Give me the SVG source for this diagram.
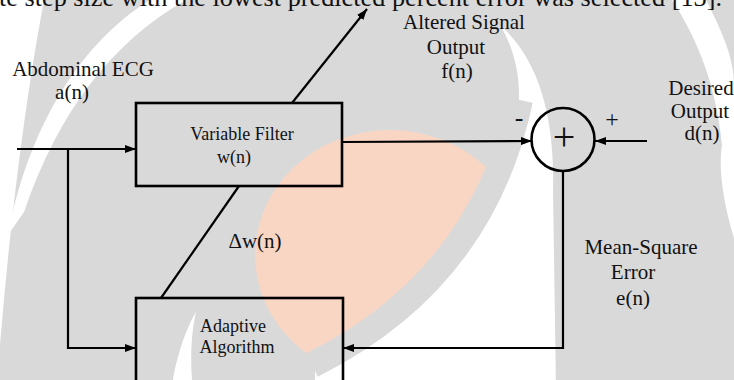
<svg xmlns="http://www.w3.org/2000/svg" width="734" height="380" viewBox="0 0 734 380">
<defs>
<style>
.t{font-family:"Liberation Serif","Times New Roman",serif;fill:#111;text-anchor:middle}
.lg{font-size:21px}
.sm{font-size:18px}
.ln{fill:none;stroke:#000;stroke-width:2.2}
.bx{fill:none;stroke:#000;stroke-width:2.6}
.wm{fill:#fff}
</style>
<marker id="ah" markerUnits="userSpaceOnUse" markerWidth="11" markerHeight="8" refX="11" refY="4" orient="auto">
<path d="M0,0 L11,4 L0,8 Z" fill="#000"/>
</marker>
</defs>
<g id="watermark">
<rect x="0" y="0" width="734" height="380" fill="#d9d9d9"/>
<path class="wm" d="M0,0 L44,0 Q16,150 0,345 Z"/>
<path class="wm" d="M8,235 C30,120 85,40 150,0 L186,0 C112,42 58,112 24,212 Z"/>
<path class="wm" d="M672,0 L706,0 C724,35 734,60 734,85 L734,238 C724,205 718,170 722,145 C716,85 698,40 672,0 Z"/>
<ellipse cx="390" cy="255" rx="135" ry="125" fill="#f9d6c3"/>
<path class="wm" d="M500,25 C540,60 555,120 553,190 L556,390 L315,390 L315,360 Q480,280 518,115 C522,80 515,50 500,25 Z"/>
<path d="M520,100 Q482,280 312,365" fill="none" stroke="#d9d9d9" stroke-width="26"/>
<path class="wm" d="M196,312 C185,330 176,360 173,380 L192,380 C190,350 192,330 196,312 Z"/>
</g>
<text class="t" x="-1" y="6" font-size="26" textLength="723" lengthAdjust="spacingAndGlyphs" style="text-anchor:start">te step size with the lowest predicted percent error was selected [13].</text>
<g id="connectors">
<path class="ln" d="M17,149 L136,149" marker-end="url(#ah)"/>
<path class="ln" d="M68,149 L68,348 L136,348" marker-end="url(#ah)"/>
<path class="ln" d="M292,103 L367,9" marker-end="url(#ah)"/>
<path class="ln" d="M342,142 L532,141" marker-end="url(#ah)"/>
<path class="ln" d="M647,141 L595,141" marker-end="url(#ah)"/>
<path class="ln" d="M563,171 L563,348 L343,348" marker-end="url(#ah)"/>
<path class="ln" d="M161,298 L239,186"/>
</g>
<g id="filter">
<rect class="bx" x="136" y="103" width="206" height="83"/>
<text class="t sm" x="242" y="140">Variable Filter</text>
<text class="t sm" x="234" y="163">w(n)</text>
</g>
<g id="adaptive">
<rect class="bx" x="136" y="298" width="207" height="100"/>
<text class="t sm" x="233" y="332">Adaptive</text>
<text class="t sm" x="237" y="353">Algorithm</text>
</g>
<g id="sum">
<circle cx="563" cy="139.5" r="31.5" fill="none" stroke="#000" stroke-width="2.6"/>
<text class="t" x="564" y="150" font-size="40">+</text>
</g>
<g id="labels">
<text class="t lg" x="83" y="76">Abdominal ECG</text>
<text class="t lg" x="72" y="99">a(n)</text>
<text class="t lg" x="464" y="29">Altered Signal</text>
<text class="t lg" x="456" y="54">Output</text>
<text class="t lg" x="457" y="78">f(n)</text>
<text class="t lg" x="701" y="95">Desired</text>
<text class="t lg" x="700" y="118">Output</text>
<text class="t lg" x="702" y="140">d(n)</text>
<text class="t" x="519" y="126" font-size="26">-</text>
<text class="t" x="612" y="127" font-size="24">+</text>
<text class="t lg" x="255" y="248">Δw(n)</text>
<text class="t lg" x="641" y="254">Mean-Square</text>
<text class="t lg" x="633" y="279">Error</text>
<text class="t lg" x="633" y="305">e(n)</text>
</g>
</svg>
